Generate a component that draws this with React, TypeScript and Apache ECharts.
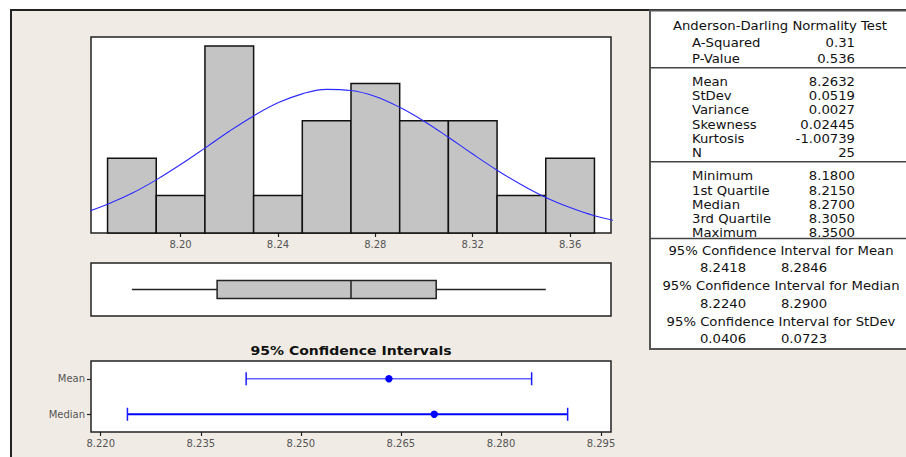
import React, { useEffect, useRef } from "react";
import * as echarts from "echarts";

// ---------- data ----------
const histBinLower = [8.17, 8.19, 8.21, 8.23, 8.25, 8.27, 8.29, 8.31, 8.33, 8.35];
const histCounts = [2, 1, 5, 1, 3, 4, 3, 3, 1, 2];
const binWidth = 0.02;
const histTicks = [8.2, 8.24, 8.28, 8.32, 8.36];

// fitted normal curve (counts)
const curveX = [8.16, 8.17, 8.18, 8.19, 8.2, 8.21, 8.22, 8.23, 8.24, 8.25, 8.26, 8.27, 8.28, 8.29, 8.3, 8.31, 8.32, 8.33, 8.34, 8.35, 8.36, 8.37, 8.38];
const curveY = [0.53, 0.77, 1.06, 1.42, 1.83, 2.27, 2.72, 3.13, 3.48, 3.72, 3.84, 3.81, 3.65, 3.36, 2.99, 2.56, 2.11, 1.68, 1.29, 0.95, 0.68, 0.46, 0.31];

const boxStats = [8.18, 8.215, 8.27, 8.305, 8.35]; // min, Q1, median, Q3, max

const ciCategories = ["Median", "Mean"];
const ciLower = [8.224, 8.2418];
const ciEstimate = [8.27, 8.2632];
const ciUpper = [8.29, 8.2846];
const ciTicks = [8.22, 8.235, 8.25, 8.265, 8.28, 8.295];
const ciTitle = "95% Confidence Intervals";

const tableTitle = "Anderson-Darling Normality Test";
const adLabels = ["A-Squared", "P-Value"];
const adValues = ["0.31", "0.536"];
const momentLabels = ["Mean", "StDev", "Variance", "Skewness", "Kurtosis", "N"];
const momentValues = ["8.2632", "0.0519", "0.0027", "0.02445", "-1.00739", "25"];
const quantileLabels = ["Minimum", "1st Quartile", "Median", "3rd Quartile", "Maximum"];
const quantileValues = ["8.1800", "8.2150", "8.2700", "8.3050", "8.3500"];
const ciTableHeaders = [
  "95% Confidence Interval for Mean",
  "95% Confidence Interval for Median",
  "95% Confidence Interval for StDev",
];
const ciTableLow = ["8.2418", "8.2240", "0.0406"];
const ciTableHigh = ["8.2846", "8.2900", "0.0723"];

// ---------- styling ----------
const FONT = "DejaVu Sans";
const BG = "#f0ece5";
const BAR = "#c4c4c4";
const TBL_FS = 11.5;
const TBL_STRETCH = 1.15;

export default function App() {
  const ref = useRef<HTMLDivElement>(null);

  useEffect(() => {
    if (!ref.current) return;
    const chart = echarts.init(ref.current, undefined, { renderer: "svg" });

    const txt = (text: string, x: number, y: number, align: string, extra: any = {}, stretch = TBL_STRETCH) => ({
      type: "text",
      x,
      y,
      z: 10,
      scaleX: stretch,
      style: {
        text,
        fill: "#111",
        font: `${TBL_FS}px "${FONT}"`,
        textAlign: align,
        textVerticalAlign: "middle",
        ...extra,
      },
    });

    const graphics: any[] = [];
    // outer frame
    graphics.push({
      type: "rect",
      z: -10,
      shape: { x: 11, y: 10, width: 1000, height: 1000 },
      style: { fill: BG, stroke: "#222", lineWidth: 2 },
    });
    // table
    graphics.push({
      type: "rect",
      z: 5,
      shape: { x: 650, y: 10.5, width: 300, height: 338.5 },
      style: { fill: "#fff", stroke: "#555", lineWidth: 2 },
    });
    [67.7, 161.7, 238.5].forEach((y) =>
      graphics.push({
        type: "line",
        z: 6,
        shape: { x1: 650, y1: y, x2: 910, y2: y },
        style: { stroke: "#444", lineWidth: 1.6 },
      })
    );
    const labX = 692;
    const valX = 855;
    graphics.push(txt(tableTitle, 780, 25.5, "center"));
    adLabels.forEach((l, i) => {
      graphics.push(txt(l, labX, 43.3 + i * 16, "left"));
      graphics.push(txt(adValues[i], valX, 43.3 + i * 16, "right"));
    });
    momentLabels.forEach((l, i) => {
      graphics.push(txt(l, labX, 81.5 + i * 14.3, "left"));
      graphics.push(txt(momentValues[i], valX, 81.5 + i * 14.3, "right"));
    });
    quantileLabels.forEach((l, i) => {
      graphics.push(txt(l, labX, 176.3 + i * 14.2, "left"));
      graphics.push(txt(quantileValues[i], valX, 176.3 + i * 14.2, "right"));
    });
    ciTableHeaders.forEach((h, i) => {
      const y0 = 250.7 + i * 35.5;
      graphics.push(txt(h, 781, y0, "center"));
      graphics.push(txt(ciTableLow[i], 723, y0 + 17.6, "center"));
      graphics.push(txt(ciTableHigh[i], 804, y0 + 17.6, "center"));
    });
    // CI title
    graphics.push(
      txt(ciTitle, 351, 350.5, "center", { font: `bold 12px "${FONT}"` }, 1.17)
    );

    const gridBase = {
      left: 91,
      width: 520,
      show: true,
      backgroundColor: "#fff",
      borderColor: "#222",
      borderWidth: 1.5,
      containLabel: false,
    };

    const option: any = {
      animation: false,
      backgroundColor: "#fff",
      textStyle: { fontFamily: FONT },
      graphic: { elements: graphics },
      grid: [
        { ...gridBase, top: 37, height: 196 },
        { ...gridBase, top: 263, height: 53 },
        { ...gridBase, top: 361, height: 71 },
      ],
      xAxis: [
        {
          gridIndex: 0,
          type: "value",
          min: 8.1632,
          max: 8.3768,
          axisLine: { show: false },
          splitLine: { show: false },
          axisTick: { show: true, customValues: histTicks, length: 4, lineStyle: { color: "#222", width: 1.2 } },
          axisLabel: {
            customValues: histTicks,
            formatter: (v: number) => v.toFixed(2),
            color: "#555",
            fontSize: 10,
            margin: 6,
            fontFamily: FONT,
          },
        },
        {
          gridIndex: 1,
          type: "value",
          min: 8.1632,
          max: 8.3768,
          show: false,
        },
        {
          gridIndex: 2,
          type: "value",
          min: 8.21854,
          max: 8.2965,
          axisLine: { show: false },
          splitLine: { show: false },
          axisTick: { show: true, customValues: ciTicks, length: 4, lineStyle: { color: "#222", width: 1.2 } },
          axisLabel: {
            customValues: ciTicks,
            formatter: (v: number) => v.toFixed(3),
            color: "#555",
            fontSize: 10,
            margin: 6,
            fontFamily: FONT,
          },
        },
      ],
      yAxis: [
        { gridIndex: 0, type: "value", min: 0, max: 5.24, show: false },
        { gridIndex: 1, type: "category", data: ["Data"], show: false },
        {
          gridIndex: 2,
          type: "category",
          data: ciCategories,
          axisLine: { show: false },
          splitLine: { show: false },
          axisTick: { show: true, alignWithLabel: true, length: 4, lineStyle: { color: "#222", width: 1.2 } },
          axisLabel: { color: "#555", fontSize: 10, margin: 6, fontFamily: FONT },
        },
      ],
      series: [
        {
          type: "custom",
          xAxisIndex: 0,
          yAxisIndex: 0,
          z: 2,
          data: histBinLower.map((lo, i) => [lo, lo + binWidth, histCounts[i]]),
          encode: { x: [0, 1], y: 2 },
          renderItem: (_p: any, api: any) => {
            const p0 = api.coord([api.value(0), 0]);
            const p1 = api.coord([api.value(1), api.value(2)]);
            return {
              type: "rect",
              shape: { x: p0[0], y: p1[1], width: p1[0] - p0[0], height: p0[1] - p1[1] },
              style: { fill: BAR, stroke: "#111", lineWidth: 1.5 },
            };
          },
        },
        {
          type: "line",
          xAxisIndex: 0,
          yAxisIndex: 0,
          z: 3,
          smooth: 0.4,
          symbol: "none",
          clip: true,
          data: curveX.map((x, i) => [x, curveY[i]]),
          lineStyle: { color: "#2a2aff", width: 1.1 },
        },
        {
          type: "custom",
          xAxisIndex: 1,
          yAxisIndex: 1,
          data: [[...boxStats, 0]],
          encode: { x: [0, 1, 2, 3, 4], y: 5 },
          renderItem: (_p: any, api: any) => {
            const c = api.value(5);
            const mn = api.coord([api.value(0), c]);
            const q1 = api.coord([api.value(1), c]);
            const md = api.coord([api.value(2), c]);
            const q3 = api.coord([api.value(3), c]);
            const mx = api.coord([api.value(4), c]);
            const h = 9;
            const ls = { stroke: "#222", lineWidth: 1.5 };
            return {
              type: "group",
              children: [
                { type: "line", shape: { x1: mn[0], y1: mn[1], x2: q1[0], y2: q1[1] }, style: ls },
                { type: "line", shape: { x1: q3[0], y1: q3[1], x2: mx[0], y2: mx[1] }, style: ls },
                {
                  type: "rect",
                  shape: { x: q1[0], y: q1[1] - h, width: q3[0] - q1[0], height: 2 * h },
                  style: { fill: BAR, stroke: "#222", lineWidth: 1.5 },
                },
                { type: "line", shape: { x1: md[0], y1: md[1] - h, x2: md[0], y2: md[1] + h }, style: ls },
              ],
            };
          },
        },
        {
          type: "custom",
          xAxisIndex: 2,
          yAxisIndex: 2,
          data: ciCategories.map((_c, i) => [ciLower[i], ciEstimate[i], ciUpper[i], i]),
          encode: { x: [0, 1, 2], y: 3 },
          renderItem: (_p: any, api: any) => {
            const cat = api.value(3);
            const a = api.coord([api.value(0), cat]);
            const m = api.coord([api.value(1), cat]);
            const b = api.coord([api.value(2), cat]);
            const isMean = ciCategories[cat] === "Mean";
            const col = isMean ? "#6262ff" : "#0000ff";
            const lw = isMean ? 1.7 : 2;
            const cap = { stroke: "#1a1aff", lineWidth: 1.5 };
            return {
              type: "group",
              children: [
                { type: "line", shape: { x1: a[0], y1: a[1], x2: b[0], y2: b[1] }, style: { stroke: col, lineWidth: lw } },
                { type: "line", shape: { x1: a[0], y1: a[1] - 6.5, x2: a[0], y2: a[1] + 6.5 }, style: cap },
                { type: "line", shape: { x1: b[0], y1: b[1] - 6.5, x2: b[0], y2: b[1] + 6.5 }, style: cap },
                { type: "circle", shape: { cx: m[0], cy: m[1], r: 3.7 }, style: { fill: "#0000ff" } },
              ],
            };
          },
        },
      ],
    };

    chart.setOption(option);
    return () => chart.dispose();
  }, []);

  return (
    <div
      ref={ref}
      style={{ position: "fixed", left: 0, top: 0, width: 906, height: 457 }}
    />
  );
}
